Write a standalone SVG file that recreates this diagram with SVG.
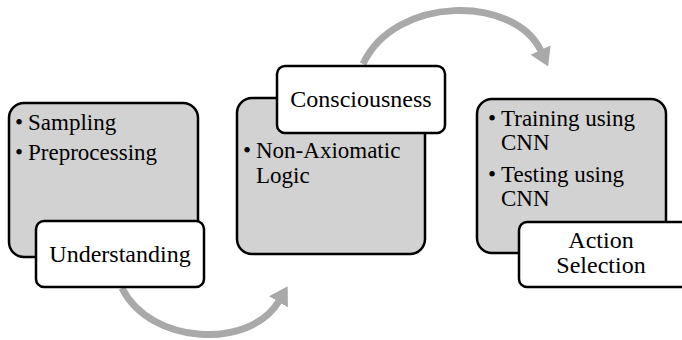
<svg xmlns="http://www.w3.org/2000/svg" width="682" height="340" viewBox="0 0 682 340">
<defs>
<marker id="ah" markerUnits="userSpaceOnUse" markerWidth="18" markerHeight="22" viewBox="0 0 18 22" refX="1" refY="11" orient="auto">
<path d="M0,0 L18,11 L0,22 z" fill="#a9a9a9"/>
</marker>
<style>
.gbox{fill:#d2d2d2;stroke:#000;stroke-width:2.5}
.wbox{fill:#fff;stroke:#000;stroke-width:2.5}
.conn{fill:none;stroke:#a9a9a9;stroke-width:7;marker-end:url(#ah)}
text{font-family:'Liberation Serif','Times New Roman',serif;fill:#000}
.bt{font-size:23px}
.lb{font-size:24px;text-anchor:middle}
</style>
</defs>
<rect width="682" height="340" fill="#fff"/>
<g id="connectors">
<path class="conn" d="M122,288 C150,345 250,350 279,301"/>
<path class="conn" d="M363,64 C395,-5 515,-5 541,51"/>
</g>
<g id="node-understanding">
<rect class="gbox" x="9" y="103" width="189" height="154" rx="15"/>
<text class="bt" x="15" y="130">•</text><text class="bt" x="28" y="130">Sampling</text>
<text class="bt" x="15" y="160">•</text><text class="bt" x="28" y="160">Preprocessing</text>
<rect class="wbox" x="36" y="221" width="168" height="66" rx="8"/>
<text class="lb" x="120" y="262">Understanding</text>
</g>
<g id="node-consciousness">
<rect class="gbox" x="237" y="98" width="188" height="156" rx="15"/>
<text class="bt" x="243" y="158">•</text><text class="bt" x="256" y="158">Non-Axiomatic</text>
<text class="bt" x="256" y="183">Logic</text>
<rect class="wbox" x="277" y="66" width="168" height="67" rx="8"/>
<text class="lb" x="361" y="107">Consciousness</text>
</g>
<g id="node-action">
<rect class="gbox" x="477" y="99" width="189" height="154" rx="15"/>
<text class="bt" x="488" y="126">•</text><text class="bt" x="501" y="126">Training using</text>
<text class="bt" x="501" y="150">CNN</text>
<text class="bt" x="488" y="182">•</text><text class="bt" x="501" y="182">Testing using</text>
<text class="bt" x="501" y="206">CNN</text>
<rect class="wbox" x="519" y="222" width="180" height="65" rx="8"/>
<text class="lb" x="601" y="248">Action</text>
<text class="lb" x="601" y="273">Selection</text>
</g>
</svg>
